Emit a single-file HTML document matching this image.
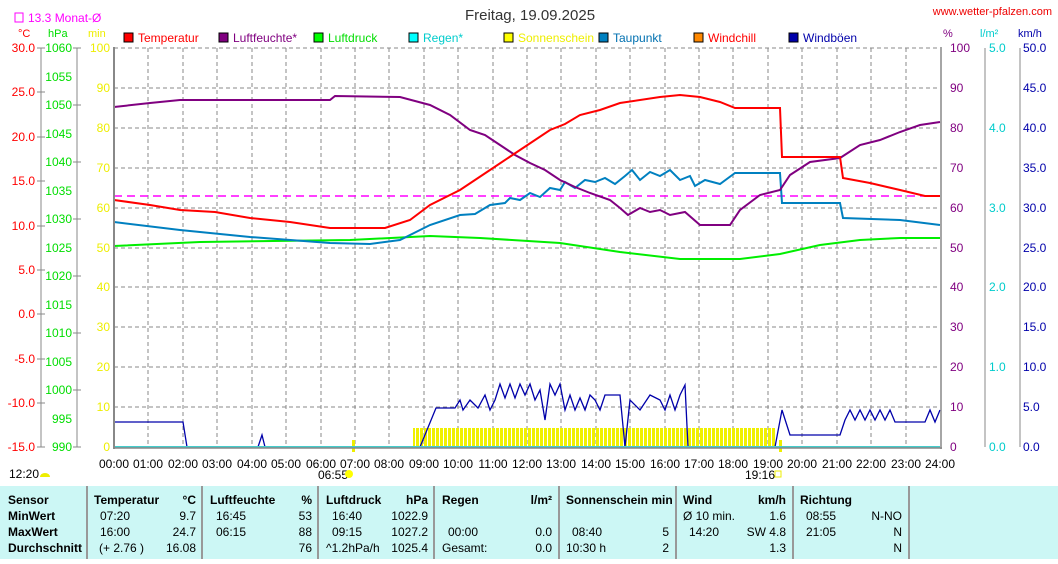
<!DOCTYPE html><html><head><meta charset="utf-8"><style>
body{margin:0;width:1058px;height:559px;background:#fff;overflow:hidden;font-family:"Liberation Sans",sans-serif}
svg text{font-family:"Liberation Sans",sans-serif;font-size:12px}
</style></head><body>
<svg width="1058" height="559" viewBox="0 0 1058 559" xmlns="http://www.w3.org/2000/svg">
<defs><pattern id="sun" width="4" height="20" patternUnits="userSpaceOnUse"><rect width="3" height="20" fill="#f0f000"/></pattern></defs>
<text x="530" y="20" text-anchor="middle" style="font-size:15px" fill="#333">Freitag, 19.09.2025</text>
<text x="1052" y="15" text-anchor="end" fill="#e00" style="font-size:11px">www.wetter-pfalzen.com</text>
<rect x="15" y="13" width="8" height="9" fill="none" stroke="#f0f"/>
<text x="28" y="22" fill="#f0f">13.3 Monat-Ø</text>
<text x="18" y="37" fill="#f00" style="font-size:11px">°C</text>
<text x="48" y="37" fill="#0d0" style="font-size:11px">hPa</text>
<text x="88" y="37" fill="#ee0" style="font-size:11px">min</text>
<text x="943" y="37" fill="#800080" style="font-size:11px">%</text>
<text x="980" y="37" fill="#0cc" style="font-size:11px">l/m²</text>
<text x="1018" y="37" fill="#00a" style="font-size:11px">km/h</text>
<g style="font-size:11px">
<rect x="124" y="33" width="9" height="9" fill="#f00" stroke="#000"/><text x="138" y="42" fill="#f00">Temperatur</text>
<rect x="219" y="33" width="9" height="9" fill="#800080" stroke="#000"/><text x="233" y="42" fill="#800080">Luftfeuchte*</text>
<rect x="314" y="33" width="9" height="9" fill="#0f0" stroke="#000"/><text x="328" y="42" fill="#0d0">Luftdruck</text>
<rect x="409" y="33" width="9" height="9" fill="#0ff" stroke="#000"/><text x="423" y="42" fill="#0cc">Regen*</text>
<rect x="504" y="33" width="9" height="9" fill="#ff0" stroke="#000"/><text x="518" y="42" fill="#ee0">Sonnenschein</text>
<rect x="599" y="33" width="9" height="9" fill="#0080c0" stroke="#000"/><text x="613" y="42" fill="#0070b0">Taupunkt</text>
<rect x="694" y="33" width="9" height="9" fill="#f80" stroke="#000"/><text x="708" y="42" fill="#f00">Windchill</text>
<rect x="789" y="33" width="9" height="9" fill="#00a" stroke="#000"/><text x="803" y="42" fill="#00a">Windböen</text>
</g>
<g stroke="#888" stroke-dasharray="4,3" stroke-width="1">
<line x1="114" y1="88" x2="940" y2="88"/><line x1="114" y1="128" x2="940" y2="128"/><line x1="114" y1="168" x2="940" y2="168"/><line x1="114" y1="208" x2="940" y2="208"/><line x1="114" y1="248" x2="940" y2="248"/><line x1="114" y1="287" x2="940" y2="287"/><line x1="114" y1="327" x2="940" y2="327"/><line x1="114" y1="367" x2="940" y2="367"/><line x1="114" y1="407" x2="940" y2="407"/>
<line x1="148" y1="48" x2="148" y2="447"/><line x1="183" y1="48" x2="183" y2="447"/><line x1="217" y1="48" x2="217" y2="447"/><line x1="252" y1="48" x2="252" y2="447"/><line x1="286" y1="48" x2="286" y2="447"/><line x1="321" y1="48" x2="321" y2="447"/><line x1="355" y1="48" x2="355" y2="447"/><line x1="389" y1="48" x2="389" y2="447"/><line x1="424" y1="48" x2="424" y2="447"/><line x1="458" y1="48" x2="458" y2="447"/><line x1="493" y1="48" x2="493" y2="447"/><line x1="527" y1="48" x2="527" y2="447"/><line x1="561" y1="48" x2="561" y2="447"/><line x1="596" y1="48" x2="596" y2="447"/><line x1="630" y1="48" x2="630" y2="447"/><line x1="665" y1="48" x2="665" y2="447"/><line x1="699" y1="48" x2="699" y2="447"/><line x1="733" y1="48" x2="733" y2="447"/><line x1="768" y1="48" x2="768" y2="447"/><line x1="802" y1="48" x2="802" y2="447"/><line x1="837" y1="48" x2="837" y2="447"/><line x1="871" y1="48" x2="871" y2="447"/><line x1="906" y1="48" x2="906" y2="447"/>
</g>
<line x1="114" y1="48" x2="940" y2="48" stroke="#888" stroke-dasharray="4,3"/>
<rect x="413" y="428" width="362" height="19" fill="url(#sun)"/>
<rect x="352" y="440" width="3" height="12" fill="#ee0"/><rect x="779" y="440" width="3" height="12" fill="#ee0"/>
<line x1="114" y1="196" x2="940" y2="196" stroke="#f0f" stroke-width="1.5" stroke-dasharray="8,5"/>
<polyline fill="none" stroke="#0e0" stroke-width="2" points="114,246 200,242 350,240 430,236 480,238 560,243 620,252 680,259 740,259 780,254 820,245 860,240 900,238 940,238"/>
<polyline fill="none" stroke="#0080c0" stroke-width="2" points="114,222 180,230 250,237 330,243 370,244 400,240 430,225 460,215 475,214 490,205 505,203 510,198 520,200 530,193 540,197 550,188 560,190 565,182 575,188 585,180 595,182 605,178 615,184 625,176 632,170 640,180 650,172 660,176 670,170 680,180 690,176 695,186 705,180 720,184 735,173 780,173 782,203 840,203 843,218 900,220 940,225"/>
<polyline fill="none" stroke="#800080" stroke-width="2" points="114,107 150,103 180,100 330,100 335,96 400,97 430,105 450,115 470,130 485,135 500,145 515,155 530,163 545,170 560,180 575,187 590,193 610,200 620,208 628,215 640,208 650,212 660,210 670,215 685,212 700,225 730,225 740,210 760,195 780,190 790,175 810,162 840,158 860,145 880,140 900,132 920,125 940,122"/>
<polyline fill="none" stroke="#f00" stroke-width="2" points="114,200 150,205 180,210 215,212 250,218 290,222 330,228 385,228 410,220 430,205 460,190 490,170 520,150 550,130 565,124 580,115 600,110 620,103 660,97 680,95 700,97 720,102 735,108 780,108 782,157 840,157 843,178 870,183 900,190 925,196 940,196"/>
<polyline fill="none" stroke="#00a" stroke-width="1.3" points="114,422 183,422 187,447 258,447 262,435 265,447 420,447 436,408 455,408 460,400 463,410 470,400 478,408 485,395 490,410 495,400 500,384 505,398 510,384 515,398 520,384 525,395 530,384 535,400 540,390 545,420 550,384 555,395 560,384 565,410 570,395 575,410 580,398 585,410 590,395 595,400 600,410 605,395 620,395 625,447 630,400 640,410 650,395 660,400 665,410 670,395 675,410 680,395 685,385 688,447 775,447 782,410 790,435 840,435 845,420 850,410 855,420 860,410 865,420 870,410 875,420 880,410 885,420 890,410 895,422 925,422 930,410 935,422 940,410"/>
<line x1="114" y1="447" x2="940" y2="447" stroke="#4cc" stroke-width="2"/>
<line x1="114" y1="47" x2="114" y2="449" stroke="#888" stroke-width="2"/>
<line x1="114" y1="448" x2="942" y2="448" stroke="#888" stroke-width="1.5"/>
<line x1="941" y1="47" x2="941" y2="449" stroke="#888" stroke-width="1.5"/>
<line x1="41" y1="48" x2="41" y2="447" stroke="#888"/><line x1="77" y1="48" x2="77" y2="447" stroke="#888"/>
<line x1="985" y1="48" x2="985" y2="447" stroke="#888"/><line x1="1020" y1="48" x2="1020" y2="447" stroke="#888"/>
<g stroke="#888">
<line x1="37" y1="48" x2="45" y2="48"/><line x1="37" y1="92" x2="45" y2="92"/><line x1="37" y1="137" x2="45" y2="137"/><line x1="37" y1="181" x2="45" y2="181"/><line x1="37" y1="226" x2="45" y2="226"/><line x1="37" y1="270" x2="45" y2="270"/><line x1="37" y1="314" x2="45" y2="314"/><line x1="37" y1="359" x2="45" y2="359"/><line x1="37" y1="403" x2="45" y2="403"/><line x1="37" y1="447" x2="45" y2="447"/>
<line x1="73" y1="48" x2="81" y2="48"/><line x1="73" y1="105" x2="81" y2="105"/><line x1="73" y1="162" x2="81" y2="162"/><line x1="73" y1="219" x2="81" y2="219"/><line x1="73" y1="276" x2="81" y2="276"/><line x1="73" y1="333" x2="81" y2="333"/><line x1="73" y1="390" x2="81" y2="390"/><line x1="73" y1="447" x2="81" y2="447"/>
</g>
<g style="font-size:12px" text-anchor="end">
<g fill="#f00"><text x="35" y="52">30.0</text><text x="35" y="96">25.0</text><text x="35" y="141">20.0</text><text x="35" y="185">15.0</text><text x="35" y="230">10.0</text><text x="35" y="274">5.0</text><text x="35" y="318">0.0</text><text x="35" y="363">-5.0</text><text x="35" y="407">-10.0</text><text x="35" y="451">-15.0</text></g>
<g fill="#0d0"><text x="72" y="52">1060</text><text x="72" y="81">1055</text><text x="72" y="109">1050</text><text x="72" y="138">1045</text><text x="72" y="166">1040</text><text x="72" y="195">1035</text><text x="72" y="223">1030</text><text x="72" y="252">1025</text><text x="72" y="280">1020</text><text x="72" y="309">1015</text><text x="72" y="337">1010</text><text x="72" y="366">1005</text><text x="72" y="394">1000</text><text x="72" y="423">995</text><text x="72" y="451">990</text></g>
<g fill="#ee0"><text x="110" y="52">100</text><text x="110" y="92">90</text><text x="110" y="132">80</text><text x="110" y="172">70</text><text x="110" y="212">60</text><text x="110" y="252">50</text><text x="110" y="291">40</text><text x="110" y="331">30</text><text x="110" y="371">20</text><text x="110" y="411">10</text><text x="110" y="451">0</text></g>
</g>
<g style="font-size:12px">
<g fill="#800080"><text x="950" y="52">100</text><text x="950" y="92">90</text><text x="950" y="132">80</text><text x="950" y="172">70</text><text x="950" y="212">60</text><text x="950" y="252">50</text><text x="950" y="291">40</text><text x="950" y="331">30</text><text x="950" y="371">20</text><text x="950" y="411">10</text><text x="950" y="451">0</text></g>
<g fill="#0cc"><text x="989" y="52">5.0</text><text x="989" y="132">4.0</text><text x="989" y="212">3.0</text><text x="989" y="291">2.0</text><text x="989" y="371">1.0</text><text x="989" y="451">0.0</text></g>
<g fill="#00a"><text x="1023" y="52">50.0</text><text x="1023" y="92">45.0</text><text x="1023" y="132">40.0</text><text x="1023" y="172">35.0</text><text x="1023" y="212">30.0</text><text x="1023" y="252">25.0</text><text x="1023" y="291">20.0</text><text x="1023" y="331">15.0</text><text x="1023" y="371">10.0</text><text x="1023" y="411">5.0</text><text x="1023" y="451">0.0</text></g>
</g>
<g style="font-size:12px" fill="#000" text-anchor="middle">
<text x="114" y="468">00:00</text><text x="148" y="468">01:00</text><text x="183" y="468">02:00</text><text x="217" y="468">03:00</text><text x="252" y="468">04:00</text><text x="286" y="468">05:00</text><text x="321" y="468">06:00</text><text x="355" y="468">07:00</text><text x="389" y="468">08:00</text><text x="424" y="468">09:00</text><text x="458" y="468">10:00</text><text x="493" y="468">11:00</text><text x="527" y="468">12:00</text><text x="561" y="468">13:00</text><text x="596" y="468">14:00</text><text x="630" y="468">15:00</text><text x="665" y="468">16:00</text><text x="699" y="468">17:00</text><text x="733" y="468">18:00</text><text x="768" y="468">19:00</text><text x="802" y="468">20:00</text><text x="837" y="468">21:00</text><text x="871" y="468">22:00</text><text x="906" y="468">23:00</text><text x="940" y="468">24:00</text>
<text x="333" y="479">06:55</text><text x="760" y="479">19:16</text><text x="24" y="478">12:20</text>
</g>
<circle cx="349" cy="474" r="4" fill="#ff0"/><rect x="775" y="471" width="6" height="6" fill="none" stroke="#ee0"/><path d="M40 477 a5 4 0 0 1 10 0z" fill="#ee0"/>
<rect x="0" y="486" width="1058" height="73" fill="#ccf7f5"/>
<g stroke="#999" stroke-width="2"><line x1="87" y1="486" x2="87" y2="559"/><line x1="202" y1="486" x2="202" y2="559"/><line x1="318" y1="486" x2="318" y2="559"/><line x1="434" y1="486" x2="434" y2="559"/><line x1="559" y1="486" x2="559" y2="559"/><line x1="676" y1="486" x2="676" y2="559"/><line x1="793" y1="486" x2="793" y2="559"/><line x1="909" y1="486" x2="909" y2="559"/></g>
<g style="font-size:11.5px" fill="#000">
<g font-weight="bold"><text x="8" y="504">Sensor</text><text x="8" y="520">MinWert</text><text x="8" y="536">MaxWert</text><text x="8" y="552">Durchschnitt</text>
<text x="94" y="504">Temperatur</text><text x="210" y="504">Luftfeuchte</text><text x="326" y="504">Luftdruck</text><text x="442" y="504">Regen</text><text x="566" y="504">Sonnenschein min</text><text x="683" y="504">Wind</text><text x="800" y="504">Richtung</text>
<g text-anchor="end"><text x="196" y="504">°C</text><text x="312" y="504">%</text><text x="428" y="504">hPa</text><text x="552" y="504">l/m²</text><text x="786" y="504">km/h</text></g></g>
<text x="100" y="520">07:20</text><text x="100" y="536">16:00</text><text x="99" y="552">(+ 2.76 )</text>
<text x="216" y="520">16:45</text><text x="216" y="536">06:15</text>
<text x="332" y="520">16:40</text><text x="332" y="536">09:15</text><text x="326" y="552">^1.2hPa/h</text>
<text x="448" y="536">00:00</text><text x="442" y="552">Gesamt:</text>
<text x="572" y="536">08:40</text><text x="566" y="552">10:30 h</text>
<text x="683" y="520">Ø 10 min.</text><text x="689" y="536">14:20</text>
<text x="806" y="520">08:55</text><text x="806" y="536">21:05</text>
<g text-anchor="end"><text x="196" y="520">9.7</text><text x="196" y="536">24.7</text><text x="196" y="552">16.08</text>
<text x="312" y="520">53</text><text x="312" y="536">88</text><text x="312" y="552">76</text>
<text x="428" y="520">1022.9</text><text x="428" y="536">1027.2</text><text x="428" y="552">1025.4</text>
<text x="552" y="536">0.0</text><text x="552" y="552">0.0</text>
<text x="669" y="536">5</text><text x="669" y="552">2</text>
<text x="786" y="520">1.6</text><text x="786" y="536">SW 4.8</text><text x="786" y="552">1.3</text>
<text x="902" y="520">N-NO</text><text x="902" y="536">N</text><text x="902" y="552">N</text></g>
</g>
</svg>
</body></html>
